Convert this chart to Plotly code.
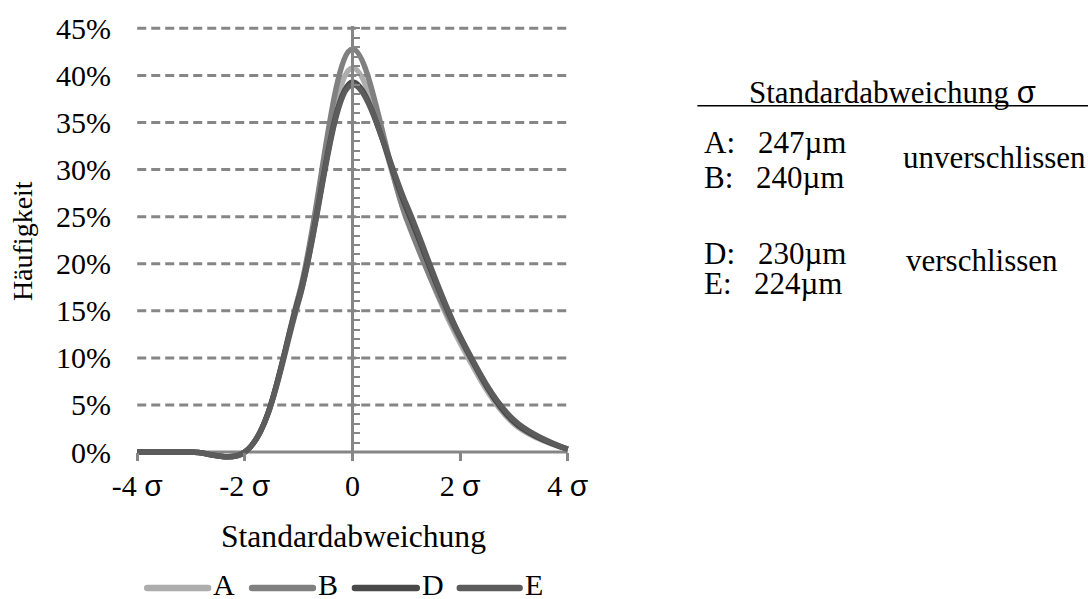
import plotly.graph_objects as go

# ---------------- data ----------------
x_sigma = [-4, -3, -2, -1, 0, 1, 2, 3, 4]
series_names = ["A", "B", "D", "E"]
vals_A = [0.0, 0.0, 0.0, 16.0, 40.8, 25.0, 11.6, 3.0, 0.3]
vals_B = [0.0, 0.0, 0.0, 16.6, 42.8, 24.8, 12.0, 3.2, 0.3]
vals_D = [0.0, 0.0, 0.0, 16.3, 39.3, 25.9, 12.2, 3.2, 0.3]
vals_E = [0.0, 0.0, 0.0, 16.1, 39.0, 26.3, 12.3, 3.4, 0.3]
series_vals = [vals_A, vals_B, vals_D, vals_E]
series_colors = ["#adadad", "#808080", "#494949", "#5c5c5c"]

SIG = "<span style='font-family:Liberation Sans'>σ</span>"
x_tickvals = [-4, -2, 0, 2, 4]
x_ticktext = [f"-4 {SIG}", f"-2 {SIG}", "0", f"2 {SIG}", f"4 {SIG}"]
y_tickvals = list(range(0, 50, 5))
y_ticktext = [f"{v}%" for v in y_tickvals]

info_rows = [("A:", "247µm"), ("B:", "240µm"), ("D:", "230µm"), ("E:", "224µm")]
info_groups = ["unverschlissen", "verschlissen"]

# ---------------- geometry ----------------
W, H = 1088, 599
FONT = "Liberation Serif"
FS = 30
GRID = "#868686"

px_per_sigma = 53.9
x_m4_px = 137.0
xr = [-4.06, 4.06]
l = x_m4_px + (xr[0] + 4) * px_per_sigma
pw = (xr[1] - xr[0]) * px_per_sigma
r = W - l - pw

px_per_pct = 9.489
y0_px = 452.0
yr = [-0.95, 45.25]
t = y0_px - yr[1] * px_per_pct
ph = (yr[1] - yr[0]) * px_per_pct
b = H - t - ph


def pxx(px):
    return (px - l) / pw


def pxy(py):
    return (t + ph - py) / ph


def tpy(py):
    # text: glyph centre sits a little above the box centre
    return pxy(py - 3)


fig = go.Figure()
for i, (name, vals, col) in enumerate(zip(series_names, series_vals, series_colors)):
    fig.add_trace(go.Scatter(
        x=x_sigma, y=vals, name=name, mode="lines",
        line=dict(color=col, width=5.5, shape="spline", smoothing=1.0),
        showlegend=False, hoverinfo="skip",
        yaxis="y2" if i == len(series_names) - 1 else "y",
    ))

shapes = []
for v in y_tickvals[1:]:
    shapes.append(dict(type="line", xref="x", yref="y", x0=-4, x1=4, y0=v, y1=v,
                       line=dict(color=GRID, width=3, dash="9px,5px"), layer="below"))
shapes.append(dict(type="line", xref="x", yref="y", x0=-4, x1=4, y0=0, y1=0,
                   line=dict(color=GRID, width=3), layer="below"))

shapes.append(dict(type="line", xref="paper", yref="paper",
                   x0=pxx(698), x1=pxx(1090), y0=pxy(103), y1=pxy(103),
                   line=dict(color="black", width=1.5)))

annotations = []


def add_text(txt, px, py, size, xanchor="left", angle=0):
    annotations.append(dict(text=txt, x=pxx(px), y=tpy(py), xref="paper", yref="paper",
                            showarrow=False, xanchor=xanchor, yanchor="middle", textangle=angle,
                            font=dict(family=FONT, size=size, color="black")))


annotations.append(dict(text="Häufigkeit", x=pxx(22), y=pxy(239), xref="paper", yref="paper",
                        textangle=-90, showarrow=False, xanchor="center", yanchor="middle",
                        font=dict(family=FONT, size=28, color="black")))
add_text("Standardabweichung", 354, 540, 31.6, xanchor="center")
add_text(f"Standardabweichung {SIG}", 893, 93, 31, xanchor="center")

row_y = [143, 178, 255, 285]
val_x = [757, 755, 757, 753]
for (lab, val), yy, vx in zip(info_rows, row_y, val_x):
    add_text(lab, 703, yy, 31)
    add_text(val, vx, yy, 31)
for txt, gx, gy in zip(info_groups, [902, 905], [158, 262]):
    add_text(txt, gx, gy, 31)

leg_lines = [(147, 208), (252, 313), (355, 417), (460, 520)]
leg_y = 589
rad = 3.2
for name, col, (x0, x1) in zip(series_names, series_colors, leg_lines):
    X0, X1 = pxx(x0), pxx(x1)
    XR0, XR1 = pxx(x0 - rad), pxx(x1 + rad)
    YT, YM, YB = pxy(leg_y - rad), pxy(leg_y), pxy(leg_y + rad)
    path = (f"M{X0},{YT} L{X1},{YT} Q{XR1},{YT} {XR1},{YM} Q{XR1},{YB} {X1},{YB} "
            f"L{X0},{YB} Q{XR0},{YB} {XR0},{YM} Q{XR0},{YT} {X0},{YT} Z")
    shapes.append(dict(type="path", xref="paper", yref="paper", path=path,
                       fillcolor=col, line=dict(width=0)))
    add_text(name, x1 + 3, leg_y - 1, 30)

fig.update_layout(
    width=W, height=H,
    margin=dict(l=l, r=r, t=t, b=b, pad=0),
    paper_bgcolor="white", plot_bgcolor="white",
    showlegend=False,
    font=dict(family=FONT, size=FS, color="black"),
    xaxis=dict(range=xr, anchor="free", position=pxy(y0_px),
               tickvals=x_tickvals, ticktext=x_ticktext,
               ticks="outside", ticklen=8, tickwidth=3, tickcolor=GRID,
               showline=False, showgrid=False, zeroline=False,
               ticklabelstandoff=-1,
               tickfont=dict(family=FONT, size=FS, color="black")),
    yaxis=dict(range=yr, tickvals=y_tickvals, ticktext=y_ticktext,
               ticks="", showline=False, showgrid=False, zeroline=False,
               ticklabelstandoff=22,
               tickfont=dict(family=FONT, size=FS, color="black")),
    yaxis2=dict(range=yr, overlaying="y", anchor="free", position=pxx(352.3), side="right",
                showline=True, linecolor=GRID, linewidth=3,
                ticks="outside", ticklen=6, tickwidth=2, tickcolor=GRID,
                tick0=0, dtick=1, showticklabels=False,
                showgrid=False, zeroline=False),
    shapes=shapes,
    annotations=annotations,
)

fig.write_html("out.html")
